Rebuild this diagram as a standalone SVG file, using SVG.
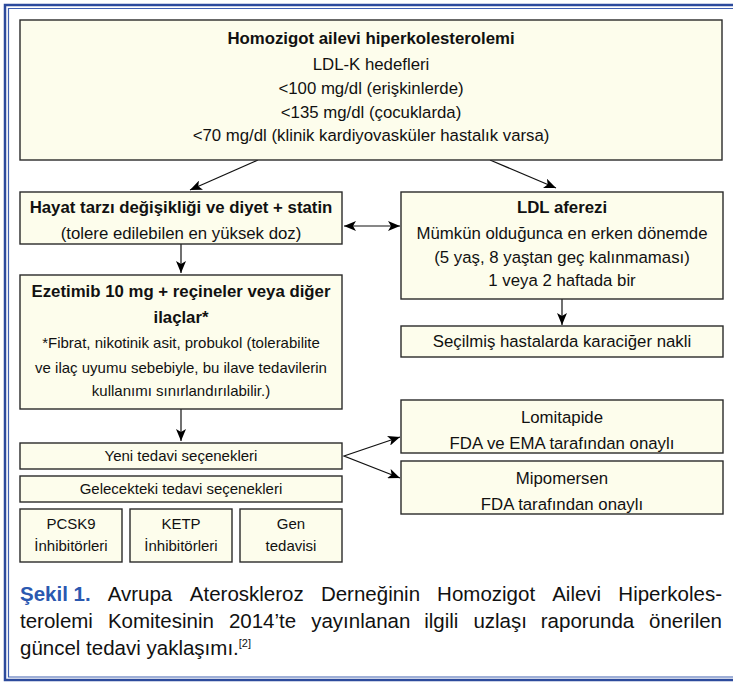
<svg xmlns="http://www.w3.org/2000/svg" width="733" height="682" viewBox="0 0 733 682">
<defs>
<style>
.box{fill:#fdfdec;stroke:#2a2a2a;stroke-width:1.4}
.t{font-family:"Liberation Sans",Arial,sans-serif;font-size:16.8px;fill:#111;text-anchor:middle}
.b{font-weight:bold}
.s{font-size:15px}
.cap{font-family:"Liberation Sans",Arial,sans-serif;font-size:20.5px;fill:#111}
.ln{stroke:#111;stroke-width:1.2;fill:none}
</style>
<marker id="ah" viewBox="0 0 12 10" refX="12" refY="5" markerWidth="12" markerHeight="10" markerUnits="userSpaceOnUse" orient="auto-start-reverse">
<path d="M0,0 L12,5 L0,10 L3,5 Z" fill="#000"/>
</marker>
</defs>
<rect x="0" y="0" width="733" height="682" fill="#fff"/>
<g id="frame">
<path d="M733,5 H5 V680 H733" fill="none" stroke="#2c4a9c" stroke-width="2.5"/>
<path d="M733,8.5 H8.5 V677 H733" fill="none" stroke="#4060b0" stroke-width="1.2"/>
</g>
<g id="connectors">
<line class="ln" x1="258" y1="160" x2="190" y2="190" marker-end="url(#ah)"/>
<line class="ln" x1="490" y1="160" x2="556" y2="188" marker-end="url(#ah)"/>
<line class="ln" x1="344" y1="226" x2="400" y2="226" marker-start="url(#ah)" marker-end="url(#ah)"/>
<line class="ln" x1="181" y1="244" x2="181" y2="273" marker-end="url(#ah)"/>
<line class="ln" x1="181" y1="409" x2="181" y2="441" marker-end="url(#ah)"/>
<line class="ln" x1="562" y1="299" x2="562" y2="325" marker-end="url(#ah)"/>
<polyline class="ln" points="400,437 344,456 400,478" marker-start="url(#ah)" marker-end="url(#ah)"/>
</g>
<g id="top">
<rect class="box" x="20" y="20" width="702" height="140"/>
<text class="t b" x="371" y="44">Homozigot ailevi hiperkolesterolemi</text>
<text class="t" x="371" y="70">LDL-K hedefleri</text>
<text class="t" x="371" y="94">&lt;100 mg/dl (erişkinlerde)</text>
<text class="t" x="371" y="118">&lt;135 mg/dl (çocuklarda)</text>
<text class="t" x="371" y="141">&lt;70 mg/dl (klinik kardiyovasküler hastalık varsa)</text>
</g>
<g id="hayat">
<rect class="box" x="20" y="192" width="322" height="52"/>
<text class="t b" x="181" y="213">Hayat tarzı değişikliği ve diyet + statin</text>
<text class="t" x="181" y="239">(tolere edilebilen en yüksek doz)</text>
</g>
<g id="ezetimib">
<rect class="box" x="20" y="275" width="322" height="134"/>
<text class="t b" x="181" y="297">Ezetimib 10 mg + reçineler veya diğer</text>
<text class="t b" x="181" y="323">ilaçlar*</text>
<text class="t s" x="181" y="348">*Fibrat, nikotinik asit, probukol (tolerabilite</text>
<text class="t s" x="181" y="373">ve ilaç uyumu sebebiyle, bu ilave tedavilerin</text>
<text class="t s" x="181" y="396">kullanımı sınırlandırılabilir.)</text>
</g>
<g id="yeni">
<rect class="box" x="20" y="443" width="322" height="26"/>
<text class="t s" x="181" y="461">Yeni tedavi seçenekleri</text>
</g>
<g id="gelecek">
<rect class="box" x="20" y="476" width="322" height="26"/>
<text class="t s" x="181" y="494">Gelecekteki tedavi seçenekleri</text>
</g>
<g id="pcsk9">
<rect class="box" x="20" y="509" width="102" height="53"/>
<text class="t s" x="71" y="529">PCSK9</text>
<text class="t s" x="71" y="551">İnhibitörleri</text>
</g>
<g id="ketp">
<rect class="box" x="130" y="509" width="102" height="53"/>
<text class="t s" x="181" y="529">KETP</text>
<text class="t s" x="181" y="551">İnhibitörleri</text>
</g>
<g id="gen">
<rect class="box" x="240" y="509" width="102" height="53"/>
<text class="t s" x="291" y="529">Gen</text>
<text class="t s" x="291" y="551">tedavisi</text>
</g>
<g id="aferez">
<rect class="box" x="401" y="192" width="322" height="107"/>
<text class="t b" x="562" y="213">LDL aferezi</text>
<text class="t" x="562" y="239">Mümkün olduğunca en erken dönemde</text>
<text class="t" x="562" y="263">(5 yaş, 8 yaştan geç kalınmaması)</text>
<text class="t" x="562" y="286">1 veya 2 haftada bir</text>
</g>
<g id="karaciger">
<rect class="box" x="401" y="326" width="322" height="31"/>
<text class="t" x="562" y="347">Seçilmiş hastalarda karaciğer nakli</text>
</g>
<g id="lomitapide">
<rect class="box" x="401" y="400" width="322" height="53"/>
<text class="t" x="562" y="423">Lomitapide</text>
<text class="t" x="562" y="449">FDA ve EMA tarafından onaylı</text>
</g>
<g id="mipomersen">
<rect class="box" x="401" y="461" width="322" height="53"/>
<text class="t" x="562" y="484">Mipomersen</text>
<text class="t" x="562" y="510">FDA tarafından onaylı</text>
</g>
<g id="caption">
<text class="cap" y="601"><tspan x="20" fill="#2a58b0" font-weight="bold">Şekil 1.</tspan><tspan x="107.7">Avrupa</tspan><tspan x="189.8">Ateroskleroz</tspan><tspan x="320.9">Derneğinin</tspan><tspan x="437.1">Homozigot</tspan><tspan x="552.2">Ailevi</tspan><tspan x="722" text-anchor="end">Hiperkoles-</tspan></text>
<text class="cap" y="628"><tspan x="20">terolemi</tspan><tspan x="107.9">Komitesinin</tspan><tspan x="228.9">2014’te</tspan><tspan x="311.2">yayınlanan</tspan><tspan x="424.2">ilgili</tspan><tspan x="473.4">uzlaşı</tspan><tspan x="540.8">raporunda</tspan><tspan x="722" text-anchor="end">önerilen</tspan></text>
<text class="cap" x="20" y="655">güncel tedavi yaklaşımı.<tspan font-size="11" dy="-8">[2]</tspan></text>
</g>
</svg>
